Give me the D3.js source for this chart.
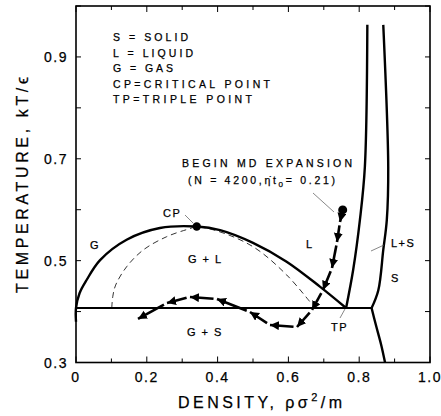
<!DOCTYPE html>
<html><head><meta charset="utf-8">
<script src="https://cdn.jsdelivr.net/npm/d3@7"></script>
<style>
body{margin:0;background:#fff;}
text{font-family:"Liberation Sans",Arial,Helvetica,"DejaVu Sans",sans-serif;fill:#000;stroke:#000;stroke-width:0.25;}
</style></head>
<body><svg id="c" width="441" height="416"></svg>
<script>
// ---- data (density, temperature) ----
const binodal = [[0,0.380],[0,0.407],[0.010,0.436],[0.030,0.462],[0.068,0.501],[0.143,0.541],[0.237,0.564],[0.341,0.567],[0.407,0.560],[0.500,0.535],[0.595,0.498],[0.689,0.449],[0.763,0.407]];
const spinodal = [[0.101,0.407],[0.104,0.430],[0.112,0.452],[0.143,0.488],[0.190,0.521],[0.256,0.547],[0.313,0.561],[0.341,0.566],[0.400,0.558],[0.501,0.527],[0.595,0.472],[0.661,0.419]];
const tripleLine = [[0,0.407],[0.835,0.407]];
const liquidus = [[0.763,0.407],[0.783,0.482],[0.802,0.580],[0.816,0.684],[0.823,0.963]];
const solidus = [[0.835,0.407],[0.854,0.442],[0.868,0.521],[0.878,0.580],[0.882,0.684],[0.868,0.963]];
const solidBelow = [[0.835,0.407],[0.847,0.374],[0.862,0.335],[0.873,0.300]];
const criticalPoint = [0.341,0.567];
const mdPath = [[0.7534,0.5996],[0.7458,0.576],[0.7373,0.5367],[0.7232,0.4857],[0.6977,0.4424],[0.6667,0.4031],[0.6243,0.3697],[0.548,0.3737],[0.4915,0.3992],[0.3983,0.4248],[0.322,0.4287],[0.2571,0.4169],[0.1751,0.3855]];
const xTicks = [0,0.2,0.4,0.6,0.8,1.0];
const xTickLabels = ["0","0.2","0.4","0.6","0.8","1.0"];
const yTicks = [0.3,0.5,0.7,0.9];
const yTickLabels = ["0.3","0.5","0.7","0.9"];
const legendLines = ["S = SOLID","L = LIQUID","G = GAS","CP=CRITICAL POINT","TP=TRIPLE POINT"];
const legendWidths = [75,80,60,157,139];

const svg = d3.select("#c");
const x = d3.scaleLinear().domain([0,1]).range([76,430]);
const y = d3.scaleLinear().domain([0.3,1.0]).range([362.5,6]);

// frame
svg.append("rect").attr("x",76).attr("y",6).attr("width",354).attr("height",356.5)
  .attr("fill","none").attr("stroke","#000").attr("stroke-width",1.6);

// ticks
const minorX = d3.range(0,1.0001,0.1);
minorX.forEach((v,i)=>{
  const L = i%2===0?6:4;
  svg.append("line").attr("x1",x(v)).attr("x2",x(v)).attr("y1",362.5).attr("y2",362.5-L).attr("stroke","#000").attr("stroke-width",1);
  svg.append("line").attr("x1",x(v)).attr("x2",x(v)).attr("y1",6).attr("y2",6+L).attr("stroke","#000").attr("stroke-width",1);
});
const minorY = d3.range(0.3,1.0001,0.1);
minorY.forEach(v=>{
  svg.append("line").attr("x1",76).attr("x2",81).attr("y1",y(v)).attr("y2",y(v)).attr("stroke","#000").attr("stroke-width",1);
  svg.append("line").attr("x1",430).attr("x2",425).attr("y1",y(v)).attr("y2",y(v)).attr("stroke","#000").attr("stroke-width",1);
});
xTicks.forEach((v,i)=>{
  svg.append("text").attr("x",x(v)).attr("y",382).attr("text-anchor","middle")
    .attr("font-size",14).attr("letter-spacing",1.5).text(xTickLabels[i]);
});
yTicks.forEach((v,i)=>{
  svg.append("text").attr("x",68).attr("y",y(v)+5).attr("text-anchor","end")
    .attr("font-size",14).attr("letter-spacing",1.5).text(yTickLabels[i]);
});

// axis titles
const xt = svg.append("text").attr("x",178).attr("y",408).attr("font-size",16)
  .attr("textLength",164).attr("lengthAdjust","spacing");
xt.append("tspan").text("DENSITY, ρσ");
xt.append("tspan").attr("dy",-7).attr("font-size",11).text("2");
xt.append("tspan").attr("dy",7).text("/m");
svg.append("text").attr("transform","translate(28,185) rotate(-90)").attr("x",-108)
  .attr("font-size",16).attr("textLength",216).attr("lengthAdjust","spacing").text("TEMPERATURE, kT/ϵ");

const line = d3.line().x(d=>x(d[0])).y(d=>y(d[1]));
const curve = d3.line().x(d=>x(d[0])).y(d=>y(d[1])).curve(d3.curveCatmullRom.alpha(0.5));

svg.append("path").attr("d",curve(spinodal)).attr("fill","none").attr("stroke","#000")
  .attr("stroke-width",0.8).attr("stroke-dasharray","6,4");
svg.append("path").attr("d",curve(binodal)).attr("fill","none").attr("stroke","#000").attr("stroke-width",2.4);
svg.append("path").attr("d",line(tripleLine)).attr("fill","none").attr("stroke","#000").attr("stroke-width",2.2);
[liquidus,solidus,solidBelow].forEach(c=>{
  svg.append("path").attr("d",curve(c)).attr("fill","none").attr("stroke","#000").attr("stroke-width",2.4);
});
svg.append("circle").attr("cx",x(criticalPoint[0])).attr("cy",y(criticalPoint[1])).attr("r",4.2).attr("fill","#000");

// MD expansion path arrows
svg.append("defs").append("marker").attr("id","ah").attr("markerUnits","userSpaceOnUse")
  .attr("markerWidth",12).attr("markerHeight",12).attr("refX",9).attr("refY",4.5).attr("orient","auto")
  .append("path").attr("d","M0,0 L9,4.5 L0,9 Z").attr("fill","#000");
svg.append("circle").attr("cx",x(mdPath[0][0])).attr("cy",y(mdPath[0][1])).attr("r",4.5).attr("fill","#000");
for(let i=0;i<mdPath.length-1;i++){
  const x0=x(mdPath[i][0]), y0=y(mdPath[i][1]), x1=x(mdPath[i+1][0]), y1=y(mdPath[i+1][1]);
  const dx=x1-x0, dy=y1-y0, len=Math.hypot(dx,dy);
  const g = i===0?0:3.5;
  svg.append("line").attr("x1",x0+dx/len*g).attr("y1",y0+dy/len*g).attr("x2",x1).attr("y2",y1)
    .attr("stroke","#000").attr("stroke-width",2.6).attr("marker-end","url(#ah)");
}

// leader lines
const leaders=[[313,193,334,212],[185,215,193,223],[340,318,345,309],[371,251,384,245]];
leaders.forEach(l=>svg.append("line").attr("x1",l[0]).attr("y1",l[1]).attr("x2",l[2]).attr("y2",l[3])
  .attr("stroke","#555").attr("stroke-width",0.7));

// legend
legendLines.forEach((t,i)=>{
  svg.append("text").attr("x",113).attr("y",41+i*15.6).attr("font-size",10.5)
    .attr("textLength",legendWidths[i]).attr("lengthAdjust","spacing").text(t);
});
svg.append("text").attr("x",182).attr("y",167).attr("font-size",10.5)
  .attr("textLength",170).attr("lengthAdjust","spacing").text("BEGIN MD EXPANSION");
const n = svg.append("text").attr("x",188).attr("y",184).attr("font-size",10.5)
  .attr("textLength",147).attr("lengthAdjust","spacing");
n.append("tspan").text("(N = 4200,");
n.append("tspan").text("η̇t");
n.append("tspan").attr("dy",3).attr("font-size",8).text("0");
n.append("tspan").attr("dy",-3).text("= 0.21)");

// region labels
const labels=[["G",90,249],["CP",163,217],["G + L",188,263],["G + S",187,336],["L",306,248],["L+S",391,247],["S",391,282],["TP",331,331]];
labels.forEach(l=>svg.append("text").attr("x",l[1]).attr("y",l[2]).attr("font-size",11).attr("letter-spacing",1.5).text(l[0]));
</script></body></html>
